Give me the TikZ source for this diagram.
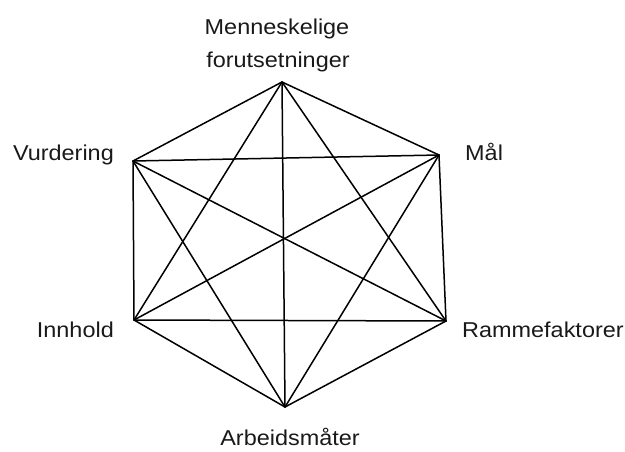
\documentclass[tikz,border=0pt]{standalone}
\usepackage{fontspec}
\setmainfont{Liberation Sans}
\newcommand{\wid}[1]{\scalebox{1.09}[1]{#1}}
\begin{document}
\begin{tikzpicture}[x=1pt,y=-1pt,
  edge/.style={line width=1.5pt, line cap=round, line join=round},
  lbl/.style={font=\fontsize{21.5}{33}\selectfont, inner sep=0pt, text=black!90}]
\useasboundingbox (0,0) rectangle (625,451);
\coordinate (T) at (282,82);
\coordinate (MR) at (439,155);
\coordinate (RR) at (446,321);
\coordinate (B) at (285,407);
\coordinate (IL) at (134,320);
\coordinate (VL) at (133,161);
\foreach \a/\b in {T/MR,T/RR,T/B,T/IL,T/VL,MR/RR,MR/B,MR/IL,MR/VL,RR/B,RR/IL,RR/VL,B/IL,B/VL,IL/VL}
  \draw[edge] (\a) -- (\b);
\node[lbl, anchor=base] (lt1) at (277,34) {\wid{Menneskelige}};
\node[lbl, anchor=base] (lt2) at (278,67) {\wid{forutsetninger}};
\node[lbl, anchor=base east] (lv) at (114,160) {\wid{Vurdering}};
\node[lbl, anchor=base west] (lm) at (465,160) {\wid{Mål}};
\node[lbl, anchor=base east] (li) at (114,337) {\wid{Innhold}};
\node[lbl, anchor=base west] (lr) at (462,337) {\wid{Rammefaktorer}};
\node[lbl, anchor=base] (la) at (290,445) {\wid{Arbeidsmåter}};
\end{tikzpicture}
\end{document}
